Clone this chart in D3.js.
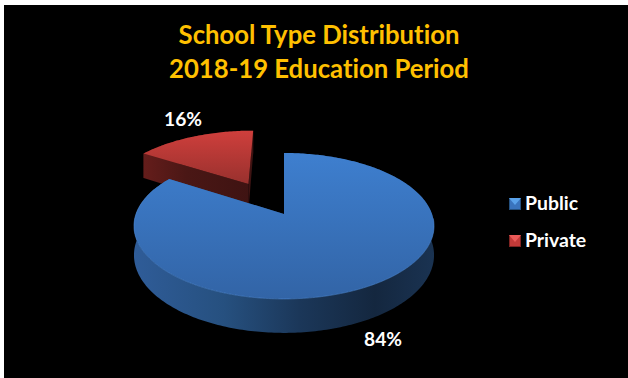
<!DOCTYPE html>
<html>
<head>
<meta charset="utf-8">
<script src="https://cdn.jsdelivr.net/npm/d3@7/dist/d3.min.js"></script>
<style>
html,body{margin:0;padding:0;background:#fff;overflow:hidden}
svg{display:block}
text{font-family:Lato,"Open Sans",sans-serif;font-weight:700;font-variant-ligatures:none}
</style>
</head>
<body>
<svg id="chart" width="628" height="378"></svg>
<script>
// School type shares for the 2018-19 education period
const categories = ["Public", "Private"];
const shares = [84, 16];
const titleLines = ["School Type Distribution", "2018-19 Education Period"];

const svg = d3.select("#chart");
const defs = svg.append("defs");

svg.append("rect").attr("x", 4).attr("y", 5).attr("width", 624).attr("height", 373).attr("fill", "#000");

// Tilted-disc projection: t runs from -1 (far edge) to 1 (near edge)
const cx = 284, cy = 214, rx = 148, ry = 71, persp = 0.164, thick = 28.4;
const project = (X, t, h = 0) => {
  const w = 1 - persp * t;
  return [cx + rx * X / w, cy + ry * t / w + thick * h / w];
};
const toWorld = (a, r = 1) => [r * Math.sin(a), -r * Math.cos(a)];

const pie = d3.pie().sort(null).startAngle(0).endAngle(2 * Math.PI);
const arcs = pie(shares);
// How far each slice is pulled out of the disc
const pullOut = [[0, 0], [-0.258, -0.454]];

const line = d3.line();
const sampled = (a0, a1, off, h) => {
  const n = Math.max(8, Math.ceil(Math.abs(a1 - a0) * 60));
  return d3.range(n + 1).map(i => {
    const [x, t] = toWorld(a0 + (a1 - a0) * i / n);
    return project(x + off[0], t + off[1], h);
  });
};

function vGrad(id, c0, c1, y0, y1) {
  const g = defs.append("linearGradient").attr("id", id)
    .attr("gradientUnits", "userSpaceOnUse").attr("x1", 0).attr("x2", 0).attr("y1", y0).attr("y2", y1);
  g.append("stop").attr("offset", 0).attr("stop-color", c0);
  g.append("stop").attr("offset", 1).attr("stop-color", c1);
}
function hGrad(id, stops, x0, x1) {
  const g = defs.append("linearGradient").attr("id", id)
    .attr("gradientUnits", "userSpaceOnUse").attr("y1", 0).attr("y2", 0).attr("x1", x0).attr("x2", x1);
  stops.forEach(([o, c]) => g.append("stop").attr("offset", o).attr("stop-color", c));
}
vGrad("blueTop", "#3e7fcf", "#3264a6", 153, 299);
vGrad("redTop", "#cf3f3c", "#96302d", 131, 186);
hGrad("blueWall", [[0, "#2f5c98"], [0.3, "#26507f"], [0.55, "#1b3759"], [0.8, "#14273f"], [1, "#1a3352"]], 134, 435);
hGrad("redWall", [[0, "#651d1b"], [0.4, "#4a1715"], [1, "#3e1312"]], 143, 252);

const tops = { Public: "url(#blueTop)", Private: "url(#redTop)" };
const walls = { Public: "url(#blueWall)", Private: "url(#redWall)" };
const edge = { Public: "#4f8ad6", Private: "#c9524f" };

// Far slice first so the nearer one overlaps it
[1, 0].forEach(i => {
  const d = arcs[i], name = categories[i];
  const off = pullOut[i];
  const tip = h => project(off[0], off[1], h);
  const g = svg.append("g");

  // Outer rim wall
  const rimTop = sampled(d.startAngle, d.endAngle, off, 0);
  const rimBot = sampled(d.startAngle, d.endAngle, off, 1).reverse();
  g.append("path").attr("d", line([...rimTop, ...rimBot]) + "Z").attr("fill", walls[name]);

  // Cut faces running in to the centre
  [d.startAngle, d.endAngle].forEach(a => {
    const [x, t] = toWorld(a);
    const p0 = project(x + off[0], t + off[1], 0), p1 = project(x + off[0], t + off[1], 1);
    g.append("path").attr("d", line([tip(0), p0, p1, tip(1)]) + "Z").attr("fill", walls[name]);
  });

  // Top face
  g.append("path").attr("d", line([tip(0), ...rimTop]) + "Z").attr("fill", tops[name]);

  // Fine highlight along the front of the rim
  if (i === 0) {
    g.append("path").attr("d", line(sampled(Math.PI * 0.52, Math.PI * 1.62, off, 0)))
      .attr("fill", "none").attr("stroke", edge[name]).attr("stroke-opacity", 0.55).attr("stroke-width", 1);
  }
});

// Title
svg.append("g").selectAll("text").data(titleLines).join("text")
  .attr("x", 319).attr("y", (d, i) => 44 + i * 34)
  .attr("text-anchor", "middle").attr("font-size", 25.7).attr("fill", "#ffc000")
  .text(d => d);

// Percentage labels
const labelPos = [[383, 346], [183, 126]];
svg.append("g").selectAll("text").data(shares).join("text")
  .attr("x", (d, i) => labelPos[i][0]).attr("y", (d, i) => labelPos[i][1])
  .attr("text-anchor", "middle").attr("font-size", 19.2).attr("fill", "#fff")
  .text(d => d + "%");

// Legend with bevelled swatches
const legendColor = d3.scaleOrdinal().domain(categories).range(["#3a74bd", "#c23a38"]);
const legendLight = d3.scaleOrdinal().domain(categories).range(["#5aa2ea", "#ea5a58"]);
const legendDark = d3.scaleOrdinal().domain(categories).range(["#24507f", "#7f2422"]);
const legendY = d3.scalePoint().domain(categories).range([204, 241]);
const item = svg.append("g").selectAll("g").data(categories).join("g")
  .attr("transform", d => `translate(0,${legendY(d)})`);
item.append("rect").attr("x", 509).attr("y", -6).attr("width", 12).attr("height", 12).attr("fill", d => legendDark(d));
item.append("rect").attr("x", 510).attr("y", -5).attr("width", 10).attr("height", 10).attr("fill", d => legendColor(d));
item.append("path").attr("d", "M509,-6L521,-6L515,1Z").attr("fill", d => legendLight(d));
item.append("text").attr("x", 525).attr("y", 6).attr("font-size", 19.4).attr("fill", "#fff").text(d => d);
</script>
</body>
</html>
